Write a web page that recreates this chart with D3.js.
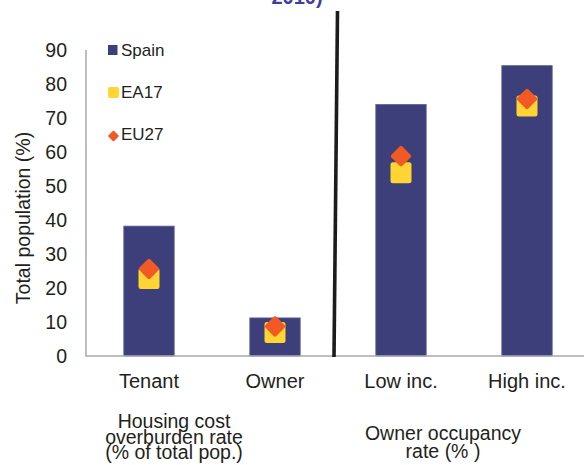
<!DOCTYPE html>
<html>
<head>
<meta charset="utf-8">
<script src="https://cdn.jsdelivr.net/npm/d3@7/dist/d3.min.js"></script>
<style>
  html, body { margin: 0; padding: 0; background: #fff; }
  svg { display: block; font-family: "Liberation Sans", Arial, sans-serif; }
</style>
</head>
<body>
<svg id="chart" width="584" height="465"></svg>
<script>
// Categories and series values (% of total population)
const categories = ["Tenant", "Owner", "Low inc.", "High inc."];
const spain = [38.2, 11.2, 74.0, 85.4];
const ea17 = [22.8, 6.9, 53.9, 73.5];
const eu27 = [25.6, 8.7, 58.8, 75.6];
const yTicks = [0, 10, 20, 30, 40, 50, 60, 70, 80, 90];
const groupLabels = [
  { lines: ["Housing cost", "overburden rate", "(% of total pop.)"], cats: ["Tenant", "Owner"] },
  { lines: ["Owner occupancy", "rate (% )"], cats: ["Low inc.", "High inc."] }
];
const seriesNames = ["Spain", "EA17", "EU27"];

const colors = { spain: "#3c3f79", spainEdge: "#5e63a0", ea17: "#ffd433", eu27: "#f15a24", axis: "#a7a9ac", text: "#231f20" };

const svg = d3.select("#chart");
const plotLeft = 86, plotRight = 590, plotTop = 50, plotBottom = 356;

const x = d3.scaleBand().domain(categories).range([plotLeft, plotRight]).paddingInner(0).paddingOuter(0);
const y = d3.scaleLinear().domain([0, 90]).range([plotBottom, plotTop]);
const barW = x.bandwidth() * 0.4;
const cx = c => x(c) + x.bandwidth() / 2;

// Partial title at the top edge
svg.append("text")
  .attr("x", 297).attr("y", 4)
  .attr("text-anchor", "middle")
  .attr("font-size", 20).attr("font-weight", "bold")
  .attr("fill", "#3d3f9e")
  .text("2010)");

// Y axis tick labels
svg.append("g").selectAll("text")
  .data(yTicks).join("text")
  .attr("x", 67).attr("y", d => y(d))
  .attr("dy", "0.35em")
  .attr("text-anchor", "end")
  .attr("font-size", 19.5)
  .attr("fill", colors.text)
  .text(d => d);

// Y axis title
svg.append("text")
  .attr("transform", `translate(30, ${(plotTop + plotBottom) / 2 + 15}) rotate(-90)`)
  .attr("text-anchor", "middle")
  .attr("font-size", 19.5)
  .attr("fill", colors.text)
  .text("Total population (%)");

// Bars (Spain)
svg.append("g").selectAll("rect")
  .data(categories).join("rect")
  .attr("x", c => cx(c) - barW / 2)
  .attr("y", (c, i) => y(spain[i]))
  .attr("width", barW)
  .attr("height", (c, i) => y(0) - y(spain[i]))
  .attr("fill", colors.spain)
  .attr("stroke", colors.spainEdge)
  .attr("stroke-width", 0.8);

// EA17 markers (rounded squares)
const sq = 21;
svg.append("g").selectAll("rect")
  .data(categories).join("rect")
  .attr("x", c => cx(c) - sq / 2)
  .attr("y", (c, i) => y(ea17[i]) - sq / 2)
  .attr("width", sq).attr("height", sq)
  .attr("rx", 2.5)
  .attr("fill", colors.ea17);

// EU27 markers (diamonds)
const dia = 15.5;
svg.append("g").selectAll("rect")
  .data(categories).join("rect")
  .attr("x", -dia / 2).attr("y", -dia / 2)
  .attr("width", dia).attr("height", dia)
  .attr("rx", 2)
  .attr("transform", (c, i) => `translate(${cx(c)}, ${y(eu27[i])}) rotate(45)`)
  .attr("fill", colors.eu27);

// Axis lines
svg.append("line")
  .attr("x1", plotLeft).attr("x2", plotLeft)
  .attr("y1", plotTop).attr("y2", plotBottom)
  .attr("stroke", colors.axis).attr("stroke-width", 1.5);
svg.append("line")
  .attr("x1", plotLeft - 0.75).attr("x2", 584)
  .attr("y1", plotBottom).attr("y2", plotBottom)
  .attr("stroke", colors.axis).attr("stroke-width", 1.5);

// Divider between the two indicator groups (band boundary before "Low inc.")
const divX = x("Low inc.");
svg.append("line")
  .attr("x1", divX - 0.5).attr("y1", 11)
  .attr("x2", divX - 4).attr("y2", plotBottom + 1)
  .attr("stroke", "#1e1b1c").attr("stroke-width", 3.6);

// Category labels
svg.append("g").selectAll("text")
  .data(categories).join("text")
  .attr("x", c => cx(c)).attr("y", 388)
  .attr("text-anchor", "middle")
  .attr("font-size", 20)
  .attr("fill", colors.text)
  .text(c => c);

// Group labels under the categories
const groupY = [428, 440];
groupLabels.forEach((g, gi) => {
  const gx = (cx(g.cats[0]) + cx(g.cats[1])) / 2 - (gi === 0 ? 38 : 21);
  const t = svg.append("text")
    .attr("x", gx).attr("y", groupY[gi])
    .attr("text-anchor", "middle")
    .attr("font-size", 19.5)
    .attr("fill", colors.text);
  g.lines.forEach((line, li) => {
    t.append("tspan").attr("x", gx).attr("dy", li === 0 ? 0 : (gi === 0 ? 15.5 : 18)).text(line);
  });
});

// Legend
const legend = svg.append("g");
const legendY = [56, 98, 140];
legend.append("rect").attr("x", 108).attr("y", 45).attr("width", 9.5).attr("height", 10).attr("fill", colors.spain);
legend.append("rect").attr("x", 108).attr("y", 87).attr("width", 11).attr("height", 11).attr("rx", 2).attr("fill", colors.ea17);
legend.append("rect").attr("x", -4).attr("y", -4).attr("width", 8).attr("height", 8).attr("rx", 1)
  .attr("transform", "translate(113.5, 136) rotate(45)").attr("fill", colors.eu27);
legend.selectAll("text")
  .data(seriesNames).join("text")
  .attr("x", 121).attr("y", (d, i) => legendY[i])
  .attr("font-size", 17)
  .attr("fill", colors.text)
  .text(d => d);
</script>
</body>
</html>
